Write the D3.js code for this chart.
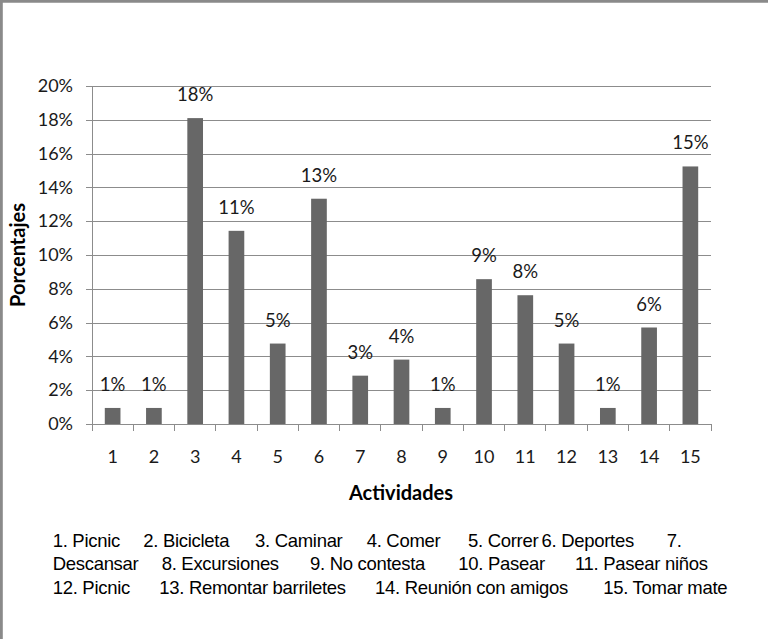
<!DOCTYPE html>
<html>
<head>
<meta charset="utf-8">
<script src="https://cdn.jsdelivr.net/npm/d3@7"></script>
<style>
  body { margin: 0; background: #fff; }
  svg { display: block; }
  .grid line { stroke: #8c8c8c; stroke-width: 1; shape-rendering: crispEdges; }
  .grid path { display: none; }
  .axis path, .axis line { stroke: #8c8c8c; shape-rendering: crispEdges; }
  .lbl { font-family: Lato, sans-serif; font-size: 18px; fill: #1a1a1a; }
  .vlbl { font-family: Lato, sans-serif; font-size: 18.5px; fill: #1a1a1a; }
  .title { font-family: Lato, sans-serif; font-size: 20px; font-weight: bold; fill: #000; }
  .legend { font-family: "Liberation Sans", Arial, sans-serif; font-size: 18.5px; letter-spacing: -0.3px; fill: #000; }
</style>
</head>
<body>
<script>
// data (percent of answers per activity)
var categories = ["1","2","3","4","5","6","7","8","9","10","11","12","13","14","15"];
var activities = ["Picnic","Bicicleta","Caminar","Comer","Correr","Deportes","Descansar",
  "Excursiones","No contesta","Pasear","Pasear niños","Picnic","Remontar barriletes",
  "Reunión con amigos","Tomar mate"];
var percents = [0.95, 0.95, 18.10, 11.43, 4.76, 13.33, 2.86, 3.81, 0.95, 8.57, 7.62, 4.76, 0.95, 5.71, 15.24];
var yTicks = [0, 2, 4, 6, 8, 10, 12, 14, 16, 18, 20];

// layout
var W = 768, H = 639;
var plot = {left: 92, right: 711, top: 86, bottom: 424};

var svg = d3.select("body").append("svg")
    .attr("width", W)
    .attr("height", H);

// frame (only left and top edges show in the picture)
svg.append("path")
    .attr("d", "M1.4," + H + "V1.4H" + W)
    .attr("fill", "none")
    .attr("stroke", "#8a8a8a")
    .attr("stroke-width", 2.8);

var x = d3.scaleBand().domain(categories).range([plot.left, plot.right]).padding(0);
var y = d3.scaleLinear().domain([0, 20]).range([plot.bottom, plot.top]);
var barW = x.bandwidth() * 0.38;

// horizontal gridlines
svg.append("g")
    .attr("class", "grid")
    .attr("transform", "translate(" + plot.left + ",0)")
    .call(d3.axisLeft(y).tickValues(yTicks).tickSize(-(plot.right - plot.left)).tickFormat(""));

// y axis with outward ticks
var yAxis = svg.append("g")
    .attr("class", "axis")
    .attr("transform", "translate(" + plot.left + ",0)")
    .call(d3.axisLeft(y).tickValues(yTicks).tickSizeInner(6).tickSizeOuter(0).tickPadding(13)
      .tickFormat(function(d) { return d + "%"; }));
yAxis.selectAll("text").attr("class", "lbl").attr("fill", null);

// bars
svg.append("g").selectAll("rect")
    .data(percents)
    .enter().append("rect")
      .attr("x", function(d, i) { return x(categories[i]) + (x.bandwidth() - barW) / 2; })
      .attr("y", function(d) { return y(d); })
      .attr("width", barW)
      .attr("height", function(d) { return y(0) - y(d); })
      .attr("fill", "#676767");

// x axis line (starts at the 0% tick) and tick marks between categories
var xa = svg.append("g").attr("class", "axis");
xa.append("line")
    .attr("x1", plot.left - 6).attr("x2", plot.right)
    .attr("y1", y(0)).attr("y2", y(0));
var edges = categories.map(function(c) { return x(c); }).concat([x(categories[categories.length - 1]) + x.bandwidth()]);
xa.selectAll(".tk")
    .data(edges)
    .enter().append("line")
      .attr("class", "tk")
      .attr("x1", function(d) { return d; }).attr("x2", function(d) { return d; })
      .attr("y1", y(0)).attr("y2", y(0) + 7);

// category labels
svg.append("g").selectAll("text")
    .data(categories)
    .enter().append("text")
      .attr("class", "lbl")
      .attr("x", function(d) { return x(d) + x.bandwidth() / 2; })
      .attr("y", 463)
      .attr("text-anchor", "middle")
      .text(function(d) { return d; });

// value labels above bars
svg.append("g").selectAll("text")
    .data(percents)
    .enter().append("text")
      .attr("class", "vlbl")
      .attr("x", function(d, i) { return x(categories[i]) + x.bandwidth() / 2; })
      .attr("y", function(d) { return y(d) - 17; })
      .attr("text-anchor", "middle")
      .text(function(d) { return Math.round(d) + "%"; });

// axis titles
svg.append("text")
    .attr("class", "title")
    .attr("transform", "translate(25," + ((plot.top + plot.bottom) / 2) + ") rotate(-90)")
    .attr("text-anchor", "middle")
    .text("Porcentajes");

svg.append("text")
    .attr("class", "title")
    .attr("x", 401)
    .attr("y", 500)
    .attr("text-anchor", "middle")
    .text("Actividades");

// legend text under the chart, wrapped like the original paragraph
var pieces = [];
activities.forEach(function(a, i) {
  if (i === 6) { pieces.push((i + 1) + "."); pieces.push(a); }
  else pieces.push((i + 1) + ". " + a);
});
var legendRows = [547, 570, 594];
var legendX = [[52.7, 143.3, 255, 366.7, 468, 541.5, 666.7],
               [52.7, 161.7, 310, 458.3, 575],
               [52.7, 159.3, 375, 603.3]];
var slots = [];
legendX.forEach(function(row, r) {
  row.forEach(function(px) { slots.push({x: px, y: legendRows[r]}); });
});

svg.append("g").selectAll("text")
    .data(pieces)
    .enter().append("text")
      .attr("class", "legend")
      .attr("x", function(d, i) { return slots[i].x; })
      .attr("y", function(d, i) { return slots[i].y; })
      .text(function(d) { return d; });
</script>
</body>
</html>
